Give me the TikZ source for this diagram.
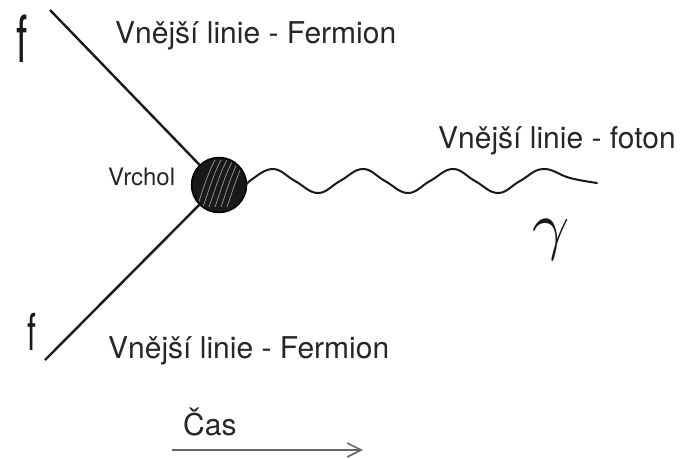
\documentclass[tikz,border=0pt]{standalone}
\usepackage{fontspec}
\setmainfont{TeX Gyre Heros}
\usetikzlibrary{arrows.meta}
\begin{document}
\begin{tikzpicture}[x=1pt,y=-1pt,
  lbl/.style={anchor=base west,inner sep=0pt,font=\fontsize{30}{36}\selectfont,text=black!85},
  fline/.style={line width=2.4pt,black!90},
  sym/.style={anchor=base west,inner sep=0pt,text=black!90},
  wave/.style={line width=2pt,black!90,line join=round,line cap=round}]
\useasboundingbox (0,0) rectangle (685,458);
% vertex
\node (v) [circle,minimum size=55pt,inner sep=0pt,fill=black!90,draw=black,line width=1.5pt] at (219,185) {};
\begin{scope}
\clip (219,185) circle (26pt);
\foreach \d in {-16,-10,-4,2,8,14}{
  \draw[white!60!black,line width=0.7pt] (219+\d-6,207) .. controls (219+\d,190) and (219+\d+4,175) .. (219+\d+12,160);
}
\end{scope}
% external fermion lines
\coordinate (ft) at (50,10);
\coordinate (fb) at (45,360);
\draw[fline] (ft) -- (v);
\draw[fline] (fb) -- (v);
% photon
\coordinate (ps) at (245,187);
\coordinate (pe) at (597,183);
\draw[wave] (ps) plot[smooth,tension=0.7] coordinates {(245,187) (251,180) (273,169) (295,181) (318,193) (340,181) (363,169) (385,181) (408,193) (430,181) (453,169) (475,181) (498,193) (520,181) (543,169) (570,178) (597,183)};
% labels
\node (lt) [lbl] at (115,43) {Vnější linie - Fermion};
\node (lf) [lbl] at (438,148) {Vnější linie - foton};
\node (lb) [lbl] at (108,358) {Vnější linie - Fermion};
\node (lv) [lbl,font=\fontsize{24}{28}\selectfont] at (108,185) {Vrchol};
\node (lc) [lbl] at (183,435) {Čas};
% particle symbols
\node (f1) [sym,font=\fontsize{65}{65}\selectfont] at (16,62) {\scalebox{0.62}[1]{f}};
\node (f2) [sym,font=\fontsize{51}{51}\selectfont] at (27,350) {\scalebox{0.62}[1]{f}};
\node (g) [inner sep=0pt,text=black!90] at (551,240) {\scalebox{6.5}{$\gamma$}};
% time arrow
\coordinate (a1) at (172,450);
\coordinate (a2) at (363,450);
\draw[black!60,line width=1.6pt,-{Straight Barb[length=14pt,width=14pt]}] (a1) -- (a2);
\end{tikzpicture}
\end{document}
